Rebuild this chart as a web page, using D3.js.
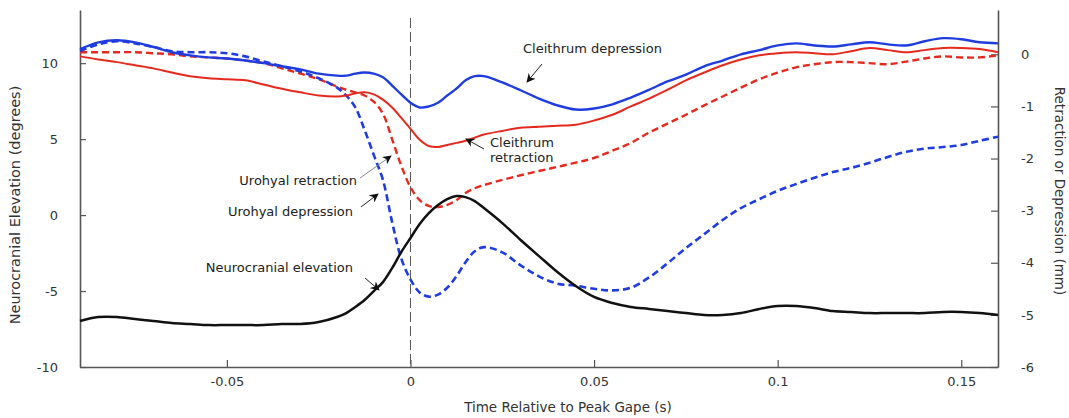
<!DOCTYPE html>
<html>
<head>
<meta charset="utf-8">
<script src="https://cdn.jsdelivr.net/npm/d3@7"></script>
<style>
  html, body { margin: 0; padding: 0; background: #fff; }
  svg { display: block; }
  text { font-family: "DejaVu Sans", Verdana, sans-serif; }
</style>
</head>
<body>
<svg id="chart" width="1069" height="418"></svg>
<script>
// ---- Data ----
const times = [-0.09, -0.085, -0.08, -0.075, -0.07, -0.065, -0.06, -0.055, -0.05, -0.045,
  -0.04, -0.035, -0.03, -0.025, -0.02, -0.0175, -0.015, -0.0125, -0.01, -0.0075,
  -0.005, -0.0025, 0, 0.0025, 0.005, 0.0075, 0.01, 0.0125, 0.015, 0.0175,
  0.02, 0.025, 0.03, 0.035, 0.04, 0.045, 0.05, 0.055, 0.06, 0.065,
  0.07, 0.075, 0.08, 0.085, 0.09, 0.095, 0.1, 0.105, 0.11, 0.115,
  0.12, 0.125, 0.13, 0.135, 0.14, 0.145, 0.15, 0.155, 0.16];

// Neurocranial elevation (degrees, left axis)
const neurocranialElevation = [-6.97, -6.71, -6.71, -6.84, -6.97, -7.11, -7.17, -7.24, -7.24, -7.24,
  -7.24, -7.17, -7.17, -7.04, -6.71, -6.45, -6.05, -5.59, -5.00, -4.41,
  -3.49, -2.43, -1.51, -0.59, 0.13, 0.66, 1.05, 1.25, 1.18, 0.92,
  0.46, -0.53, -1.64, -2.70, -3.75, -4.67, -5.39, -5.79, -6.05, -6.18,
  -6.32, -6.45, -6.58, -6.58, -6.45, -6.18, -5.99, -5.99, -6.12, -6.32,
  -6.38, -6.45, -6.45, -6.45, -6.45, -6.38, -6.38, -6.45, -6.58];

// Cleithrum depression (mm, right axis)
const cleithrumDepression = [0.10, 0.23, 0.27, 0.23, 0.14, 0.04, -0.02, -0.06, -0.08, -0.12,
  -0.17, -0.23, -0.29, -0.37, -0.41, -0.41, -0.37, -0.35, -0.37, -0.44,
  -0.60, -0.77, -0.93, -1.02, -1.00, -0.93, -0.79, -0.66, -0.50, -0.42,
  -0.42, -0.54, -0.69, -0.85, -0.98, -1.06, -1.04, -0.96, -0.83, -0.68,
  -0.52, -0.39, -0.23, -0.12, 0.00, 0.08, 0.17, 0.21, 0.17, 0.15,
  0.19, 0.23, 0.19, 0.17, 0.25, 0.31, 0.29, 0.23, 0.21];

// Cleithrum retraction (mm, right axis)
const cleithrumRetraction = [-0.04, -0.10, -0.15, -0.21, -0.27, -0.35, -0.42, -0.46, -0.48, -0.50,
  -0.58, -0.66, -0.73, -0.79, -0.81, -0.79, -0.75, -0.73, -0.77, -0.87,
  -1.02, -1.22, -1.43, -1.64, -1.76, -1.78, -1.74, -1.70, -1.66, -1.60,
  -1.54, -1.47, -1.41, -1.39, -1.37, -1.35, -1.27, -1.16, -1.00, -0.85,
  -0.68, -0.50, -0.35, -0.21, -0.10, -0.02, 0.02, 0.04, 0.02, 0.00,
  0.06, 0.12, 0.08, 0.04, 0.08, 0.12, 0.12, 0.10, 0.04];

// Urohyal retraction (mm, right axis)
const urohyalRetraction = [0.04, 0.04, 0.04, 0.04, 0.02, 0.00, -0.04, -0.06, -0.08, -0.12,
  -0.17, -0.27, -0.37, -0.48, -0.62, -0.68, -0.73, -0.79, -0.91, -1.14,
  -1.63, -2.14, -2.55, -2.80, -2.91, -2.93, -2.89, -2.80, -2.66, -2.57,
  -2.51, -2.41, -2.32, -2.24, -2.16, -2.08, -1.99, -1.85, -1.70, -1.50,
  -1.33, -1.16, -0.98, -0.81, -0.64, -0.48, -0.35, -0.25, -0.19, -0.15,
  -0.15, -0.17, -0.19, -0.14, -0.08, -0.04, -0.06, -0.06, -0.02];

// Urohyal depression (mm, right axis)
const urohyalDepression = [0.06, 0.19, 0.25, 0.21, 0.14, 0.06, 0.04, 0.04, 0.02, -0.04,
  -0.14, -0.23, -0.33, -0.46, -0.64, -0.79, -1.02, -1.45, -1.93, -2.41,
  -3.22, -3.92, -4.32, -4.57, -4.65, -4.61, -4.48, -4.26, -3.99, -3.78,
  -3.70, -3.80, -4.05, -4.26, -4.40, -4.44, -4.50, -4.53, -4.48, -4.28,
  -4.01, -3.72, -3.45, -3.18, -2.95, -2.78, -2.62, -2.49, -2.37, -2.26,
  -2.18, -2.08, -1.97, -1.87, -1.81, -1.78, -1.74, -1.66, -1.58];

const xTickValues = [-0.05, 0, 0.05, 0.1, 0.15];
const leftTickValues = [10, 5, 0, -5, -10];
const rightTickValues = [0, -1, -2, -3, -4, -5, -6];

// ---- Drawing ----
const svg = d3.select("#chart");
const L = 80, R = 998, T = 10, B = 367;

const x = d3.scaleLinear().domain([-0.09, 0.16]).range([L, R]);
const yL = d3.scaleLinear().domain([-10, 13.5]).range([B, T]);
const yR = d3.scaleLinear().domain([-6, 0.85]).range([B, T]);

const axisColor = "#555";
const textColor = "#333";

function styleAxis(g) {
  g.select(".domain").attr("stroke", axisColor).attr("stroke-width", 1.6);
  g.selectAll(".tick line").attr("stroke", axisColor).attr("stroke-width", 1.2);
  g.selectAll(".tick text").attr("fill", textColor)
    .style("font-family", '"DejaVu Sans", Verdana, sans-serif').style("font-size", "13px");
}

svg.append("g").attr("transform", `translate(0,${B})`)
  .call(d3.axisBottom(x).tickValues(xTickValues).tickSizeInner(-7).tickSizeOuter(0)
    .tickPadding(10).tickFormat(d => String(d)))
  .call(styleAxis);

svg.append("g").attr("transform", `translate(${L},0)`)
  .call(d3.axisLeft(yL).tickValues(leftTickValues).tickSizeInner(-6).tickSizeOuter(0)
    .tickPadding(22).tickFormat(d => String(d)))
  .call(styleAxis);

svg.append("g").attr("transform", `translate(${R},0)`)
  .call(d3.axisRight(yR).tickValues(rightTickValues).tickSizeInner(-7).tickSizeOuter(0)
    .tickPadding(23).tickFormat(d => String(d)))
  .call(styleAxis);

// zero-time dashed line
svg.append("line")
  .attr("x1", x(0)).attr("x2", x(0)).attr("y1", T + 8).attr("y2", B)
  .attr("stroke", "#555").attr("stroke-width", 1).attr("stroke-dasharray", "10,4");

const blue = "#1f3ce0", red = "#e5291e";

const series = [
  { values: urohyalRetraction, scale: yR, color: red, width: 2.4, dash: "7,4" },
  { values: urohyalDepression, scale: yR, color: blue, width: 2.6, dash: "7,4" },
  { values: cleithrumRetraction, scale: yR, color: red, width: 2.0, dash: null },
  { values: cleithrumDepression, scale: yR, color: blue, width: 2.4, dash: null },
  { values: neurocranialElevation, scale: yL, color: "#111", width: 2.5, dash: null }
];

series.forEach(s => {
  const line = d3.line()
    .x((d, i) => x(times[i]))
    .y(d => s.scale(d))
    .curve(d3.curveCatmullRom.alpha(0.5));
  svg.append("path")
    .datum(s.values)
    .attr("d", line)
    .attr("fill", "none")
    .attr("stroke", s.color)
    .attr("stroke-width", s.width)
    .attr("stroke-linejoin", "round")
    .attr("stroke-dasharray", s.dash);
});

// axis titles
svg.append("text")
  .attr("transform", "translate(20,205) rotate(-90)")
  .attr("text-anchor", "middle").attr("fill", textColor).style("font-size", "14.5px")
  .text("Neurocranial Elevation (degrees)");
svg.append("text")
  .attr("transform", "translate(1055,191) rotate(90)")
  .attr("text-anchor", "middle").attr("fill", textColor).style("font-size", "13.5px")
  .text("Retraction or Depression (mm)");
svg.append("text")
  .attr("x", 568).attr("y", 412)
  .attr("text-anchor", "middle").attr("fill", textColor).style("font-size", "13.5px")
  .text("Time Relative to Peak Gape (s)");

// arrowhead marker
svg.append("defs").append("marker")
  .attr("id", "arrow").attr("viewBox", "0 0 10 10")
  .attr("refX", 9).attr("refY", 5)
  .attr("markerWidth", 9).attr("markerHeight", 9)
  .attr("markerUnits", "userSpaceOnUse")
  .attr("orient", "auto")
  .append("path").attr("d", "M0,0 L10,5 L0,10 L3,5 Z").attr("fill", "#111");

const annotations = [
  { lines: ["Cleithrum depression"], tx: 523, ty: 53, anchor: "start", from: [542, 64], to: [527, 82], shaft: "#222" },
  { lines: ["Cleithrum", "retraction"], tx: 490, ty: 147, anchor: "start", from: [484, 149], to: [466, 139], shaft: "#222" },
  { lines: ["Urohyal retraction"], tx: 357, ty: 185, anchor: "end", from: [360, 178], to: [391, 156], shaft: "#888" },
  { lines: ["Urohyal depression"], tx: 353, ty: 216, anchor: "end", from: [361, 207], to: [378, 194], shaft: "#222" },
  { lines: ["Neurocranial elevation"], tx: 353, ty: 272, anchor: "end", from: [365, 278], to: [379, 290], shaft: "#222" }
];

annotations.forEach(a => {
  const t = svg.append("text")
    .attr("x", a.tx).attr("y", a.ty)
    .attr("text-anchor", a.anchor).attr("fill", "#222").style("font-size", "13px");
  a.lines.forEach((ln, i) => {
    t.append("tspan").attr("x", a.tx).attr("dy", i === 0 ? 0 : 15).text(ln);
  });
  svg.append("line")
    .attr("x1", a.from[0]).attr("y1", a.from[1])
    .attr("x2", a.to[0]).attr("y2", a.to[1])
    .attr("stroke", a.shaft).attr("stroke-width", 1)
    .attr("marker-end", "url(#arrow)");
});
</script>
</body>
</html>
